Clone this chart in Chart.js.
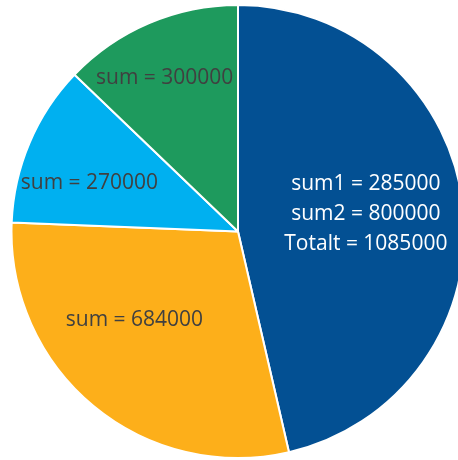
<!DOCTYPE html>
<html>
<head>
<meta charset="utf-8">
<script src="https://cdn.jsdelivr.net/npm/chart.js@4.4.1/dist/chart.umd.min.js"></script>
<style>
  html, body { margin: 0; padding: 0; background: #fff; overflow: hidden; }
  #wrap { position: absolute; left: 0; top: 0; width: 476px; height: 460px; }
</style>
</head>
<body>
<div id="wrap"><canvas id="myChart"></canvas></div>
<script>
var categories = ["Totalt", "Gruppe 2", "Gruppe 3", "Gruppe 4"];
var sliceValues = [1085000, 684000, 270000, 300000];
var sliceLabels = [
  ["sum1 = 285000", "sum2 = 800000", "Totalt = 1085000"],
  ["sum = 684000"],
  ["sum = 270000"],
  ["sum = 300000"]
];
var sliceColors = ["#035093", "#FDAF1A", "#00B0F0", "#1E9A5D"];
var labelColors = ["#ffffff", "#404040", "#404040", "#404040"];

// label placement inside each slice: [fraction of radius, angle shift in degrees]
var labelPlace = [[0.57, -1.5], [0.6, 10], [0.69, -5], [0.75, -2.5]];

var sliceText = {
  id: "sliceText",
  afterDatasetsDraw: function (chart) {
    var ctx = chart.ctx;
    var arcs = chart.getDatasetMeta(0).data;
    ctx.save();
    ctx.font = "21px 'Open Sans'";
    ctx.textAlign = "center";
    ctx.textBaseline = "middle";
    arcs.forEach(function (arc, i) {
      var p = arc.getProps(["x", "y", "startAngle", "endAngle", "outerRadius"], true);
      var mid = (p.startAngle + p.endAngle) / 2 + labelPlace[i][1] * Math.PI / 180;
      var r = p.outerRadius * labelPlace[i][0];
      var cx = p.x + Math.cos(mid) * r;
      var cy = p.y + Math.sin(mid) * r;
      var lines = sliceLabels[i];
      var lh = 30;
      ctx.fillStyle = labelColors[i];
      lines.forEach(function (t, k) {
        ctx.fillText(t, cx, cy + (k - (lines.length - 1) / 2) * lh);
      });
    });
    ctx.restore();
  }
};

new Chart("myChart", {
  type: "pie",
  data: {
    labels: categories,
    datasets: [
      {
        data: sliceValues,
        backgroundColor: sliceColors,
        borderColor: "#ffffff",
        borderWidth: 2
      }
    ]
  },
  options: {
    responsive: true,
    maintainAspectRatio: false,
    animation: false,
    layout: { padding: { top: 4, bottom: 1, left: 0, right: 0 } },
    plugins: {
      legend: { display: false },
      tooltip: { enabled: false }
    }
  },
  plugins: [sliceText]
});
</script>
</body>
</html>
